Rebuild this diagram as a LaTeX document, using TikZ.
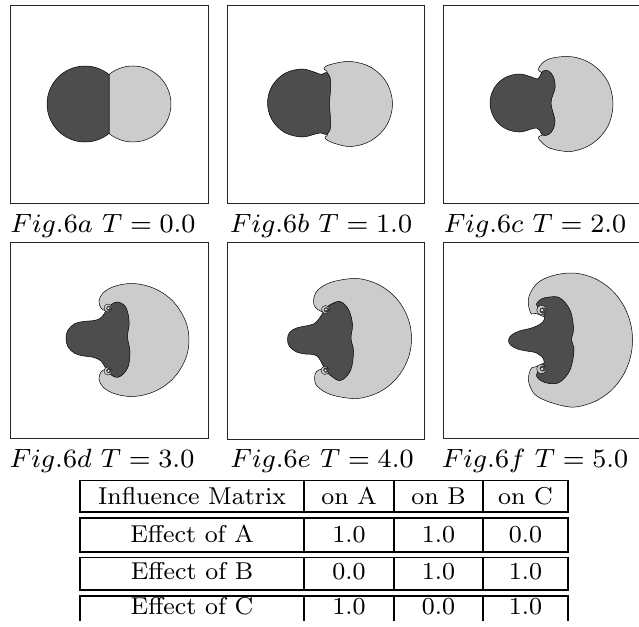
\documentclass[tikz,border=0pt]{standalone}
\usetikzlibrary{calc}
\definecolor{dk}{HTML}{4D4D4D}
\definecolor{lt}{HTML}{CCCCCC}
\begin{document}
\begin{tikzpicture}[x=1pt,y=-1pt,
  frame/.style={draw=black!85, line width=0.8pt},
  lightblob/.style={fill=lt, draw=black, line width=0.5pt},
  darkblob/.style={fill=dk, draw=black, line width=0.5pt},
  figcap/.style={anchor=base, inner sep=0pt, scale=3.3, font=\fontsize{8}{9}\selectfont},
  cell/.style={anchor=base, inner sep=0pt, scale=3.05, font=\fontsize{8}{9}\selectfont},
  rowbox/.style={draw=black, line width=1.8pt},
  colsep/.style={draw=black, line width=1.4pt},
  curl/.pic={
    \draw[fill=lt, line width=0.4pt] (0,0) circle (4);
    \draw[fill=dk, line width=0.3pt] (0.9,0.4) circle (2.3);
    \fill[white] (0.4,0) circle (0.9);
  }]
\useasboundingbox (0,0) rectangle (639,626);
\fill[white] (0,0) rectangle (639,626);

% ---------- frames ----------
\draw[frame] (10,5) rectangle (208,203);
\draw[frame] (227,5) rectangle (424,203);
\draw[frame] (443,5) rectangle (641,203);
\draw[frame] (10,242) rectangle (208,438);
\draw[frame] (227,242) rectangle (424,439);
\draw[frame] (443,242) rectangle (641,438);

% ---------- panel a ----------
\begin{scope}[shift={(109,104)}]
  \draw[lightblob] (0,-29.5) arc[start angle=-129.1, end angle=129.1, radius=38] -- cycle;
  \draw[darkblob] (0,29.5) arc[start angle=50.9, end angle=309.1, radius=38] -- cycle;
\end{scope}

% ---------- panel b ----------
\begin{scope}[shift={(325.5,104)}]
  \draw[lightblob] plot[smooth cycle, tension=0.6] coordinates {
    (-1.5,-35.5) (5,-39.5) (25,-42.5) (46,-36.4) (61.4,-21) (67,0) (61.4,21)
    (46,36.4) (26,42.5) (8,39) (-0.5,34) (2,29.5) (-4,15) (-4,-15) (2,-30.5)};
  \draw[darkblob] plot[smooth cycle, tension=0.6] coordinates {
    (-58,-1) (-53.4,-18) (-41,-30.4) (-24,-35) (-10,-31.5) (-4,-29.5) (0.5,-31.5)
    (4.5,-27) (5,-15) (4,0) (5,15) (4.5,26) (0.5,30.5) (-4,29) (-10,30)
    (-24,33) (-41,28.4) (-53.4,16)};
\end{scope}

% ---------- panel c ----------
\begin{scope}[shift={(541.5,104)}]
  \draw[lightblob] plot[smooth cycle, tension=0.6] coordinates {
    (-3,-34) (2,-42) (11,-46) (25,-47.5) (37,-45.9) (48.5,-41) (57.9,-33.6)
    (65.7,-23.5) (69.9,-12.3) (71.5,0) (69.9,12.3) (65.7,23.5) (57.9,33.6)
    (48.5,41) (37,45.9) (25,47.5) (8,44) (-1,37) (-3,33) (4,28) (8,10)
    (8,-10) (4,-28)};
  \draw[darkblob] plot[smooth cycle, tension=0.6] coordinates {
    (-51.5,-1) (-47.6,-15.5) (-37,-26.1) (-22.5,-30) (-10,-27) (-4,-25) (-1,-29)
    (1.5,-33) (7,-33) (12,-27) (13.5,-16) (9.5,-1) (13.5,17) (10,28) (4,31.5)
    (0,30) (-2,26) (-5,24) (-10,25) (-22.5,28) (-37,24.1) (-47.6,13.5)};
\end{scope}

% ---------- panel d ----------
\begin{scope}[shift={(109,340)}]
  \draw[lightblob] plot[smooth cycle, tension=0.6] coordinates {
    (-3,-29) (-8,-32) (-10,-39) (-6,-47) (5,-53.5) (21,-56.5) (36.3,-54.6)
    (50.5,-49) (62.7,-40) (72,-28) (78,-14.6) (80,0) (78,14.6) (72,28)
    (62.7,40) (50.5,49) (36.3,54.6) (21,56.5) (5,53.5) (-6,47) (-10,39)
    (-8,32) (-3,29) (8,25) (8,-25)};
  \draw[darkblob] plot[smooth cycle, tension=0.6] coordinates {
    (-43,-2) (-41,-10) (-34,-16.5) (-25,-18.5) (-15,-19.5) (-9,-21.5) (-5,-26)
    (-2,-31) (3,-36) (9,-38) (16,-34) (19.5,-24) (20,-14) (18.5,-3) (21,12)
    (19,27) (12,36) (6,37) (0,33) (-4,27) (-8,21) (-15,17.5) (-25,16)
    (-34,13.5) (-41,7)};
  \pic at (-1,-32) {curl};
  \pic[yscale=-1] at (-1,31) {curl};
\end{scope}

% ---------- panel e ----------
\begin{scope}[shift={(325.5,340.5)}]
  \draw[lightblob] plot[smooth cycle, tension=0.6] coordinates {
    (-4,-29) (-10,-33) (-12,-40) (-8,-50) (5,-58) (27,-62) (42.3,-60)
    (56.5,-54) (68.7,-44.4) (78,-32) (84,-17.5) (86,-2) (84,13.5) (78,28)
    (68.7,40.4) (56.5,50) (42.3,56) (27,58) (5,54) (-8,46) (-11,38)
    (-9,31) (-3,28) (10,20) (10,-22)};
  \draw[darkblob] plot[smooth cycle, tension=0.6] coordinates {
    (-38,-1) (-36,-8) (-29,-12.5) (-20,-14.5) (-12,-16.5) (-7,-21) (-3,-27)
    (0,-32) (5,-36) (14.5,-39) (23,-31) (27,-16) (25.5,-2) (28,11) (25,30)
    (15,40) (5,35) (0,30) (-3,24) (-7,17) (-12,14) (-20,13.5) (-29,11.5)
    (-36,6)};
  \pic at (0,-31) {curl};
  \pic[yscale=-1] at (-0.5,30) {curl};
\end{scope}

% ---------- panel f ----------
\begin{scope}[shift={(541.5,340)}]
  \draw[lightblob] plot[smooth cycle, tension=0.6] coordinates {
    (-4,-26) (-10,-26) (-13,-35) (-12,-45) (-4,-57) (10,-64) (28.5,-67)
    (44.7,-64.7) (59.75,-58) (72.7,-47.4) (82.6,-33.5) (88.9,-17.3) (91,0)
    (88.9,17.3) (82.6,33.5) (72.7,47.4) (59.75,58) (44.7,64.7) (28.5,67)
    (8,62) (-6,55) (-12,45) (-13,37) (-10,28) (-4,26) (12,15) (12,-15)};
  \draw[darkblob] plot[smooth cycle, tension=0.6] coordinates {
    (-33,0) (-30,-5) (-22,-9) (-10,-12) (-1,-16) (3,-21) (2,-26) (-2,-30)
    (-5,-36) (0,-41) (8,-43) (18.5,-42) (28.5,-30) (32,-12) (30,0) (32.5,10)
    (28.5,30) (18.5,42) (8,43.5) (0,41) (-5,36) (-2,29) (2,25) (2,19)
    (-5,13) (-15,11) (-24,9) (-31,5)};
  \pic[scale=1.2] at (0,-30) {curl};
  \pic[scale=1.2, yscale=-1] at (0,29) {curl};
\end{scope}

% ---------- captions ----------
\node[figcap] (capa) at (103,232) {$Fig.6a\ T=0.0$};
\node[figcap] (capb) at (321,232) {$Fig.6b\ T=1.0$};
\node[figcap] (capc) at (535,232) {$Fig.6c\ T=2.0$};
\node[figcap] (capd) at (102,467) {$Fig.6d\ T=3.0$};
\node[figcap] (cape) at (322,467) {$Fig.6e\ T=4.0$};
\node[figcap] (capf) at (535,467) {$Fig.6f\ T=5.0$};

% ---------- table ----------
\draw[rowbox] (80,480.5) rectangle (568,512);
\draw[rowbox] (80,518) rectangle (568,552);
\draw[rowbox] (80,557.5) rectangle (568,590);
\draw[rowbox] (80,621) -- (80,596) -- (568,596) -- (568,621);
\foreach \ya/\yb in {480.5/512, 518/552, 557.5/590, 596/621}{
  \draw[colsep] (304,\ya) -- (304,\yb);
  \draw[colsep] (394,\ya) -- (394,\yb);
  \draw[colsep] (483,\ya) -- (483,\yb);
}
\node[cell] (h0) at (192,504) {Influence Matrix};
\node[cell] (h1) at (349,504) {on A};
\node[cell] (h2) at (438.5,504) {on B};
\node[cell] (h3) at (525.5,504) {on C};
\node[cell] (a0) at (192,542.5) {Effect of A};
\node[cell] (a1) at (349,542.5) {1.0};
\node[cell] (a2) at (438.5,542.5) {1.0};
\node[cell] (a3) at (525.5,542.5) {0.0};
\node[cell] (b0) at (192,579) {Effect of B};
\node[cell] (b1) at (349,579) {0.0};
\node[cell] (b2) at (438.5,579) {1.0};
\node[cell] (b3) at (525.5,579) {1.0};
\node[cell] (c0) at (192,614) {Effect of C};
\node[cell] (c1) at (349,614) {1.0};
\node[cell] (c2) at (438.5,614) {0.0};
\node[cell] (c3) at (525.5,614) {1.0};
\end{tikzpicture}
\end{document}
